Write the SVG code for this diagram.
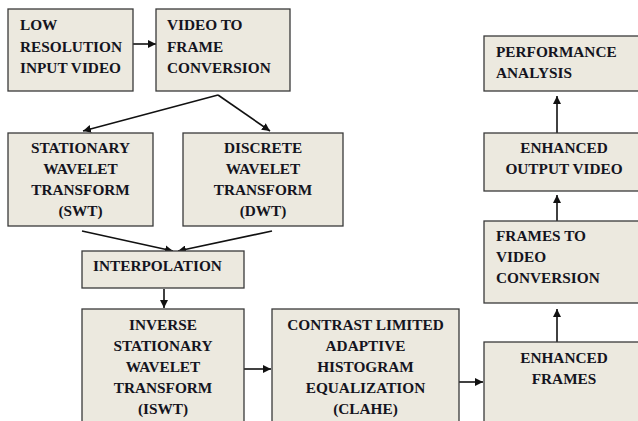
<svg xmlns="http://www.w3.org/2000/svg" width="638" height="421" viewBox="0 0 638 421">
<defs>
<style>
.box{fill:#ECE9DF;stroke:#3a3a3a;stroke-width:1.3}
.t{font-family:'Liberation Serif','Times New Roman',Times,serif;font-weight:bold;font-size:15.3px;fill:#141420}
.c{text-anchor:middle}
.ln{stroke:#111;stroke-width:1.6;fill:none}
</style>
<marker id="ah" viewBox="0 0 10 10" refX="10" refY="5" markerWidth="8" markerHeight="8" orient="auto" markerUnits="userSpaceOnUse">
<path d="M0,0 L10,5 L0,10 z" fill="#111"/>
</marker>
</defs>
<rect width="638" height="421" fill="#fff"/>
<g id="connectors">
<line class="ln" x1="133" y1="44" x2="156" y2="44" marker-end="url(#ah)"/>
<line class="ln" x1="218" y1="95" x2="83" y2="131" marker-end="url(#ah)"/>
<line class="ln" x1="218" y1="95" x2="270" y2="131" marker-end="url(#ah)"/>
<line class="ln" x1="82" y1="231" x2="173" y2="251" marker-end="url(#ah)"/>
<line class="ln" x1="272" y1="231" x2="178" y2="251" marker-end="url(#ah)"/>
<line class="ln" x1="164" y1="289" x2="164" y2="308" marker-end="url(#ah)"/>
<line class="ln" x1="244" y1="369" x2="271" y2="369" marker-end="url(#ah)"/>
<line class="ln" x1="459" y1="382" x2="483" y2="382" marker-end="url(#ah)"/>
<line class="ln" x1="557" y1="342" x2="557" y2="309" marker-end="url(#ah)"/>
<line class="ln" x1="557" y1="221" x2="557" y2="195" marker-end="url(#ah)"/>
<line class="ln" x1="557" y1="133" x2="557" y2="96" marker-end="url(#ah)"/>
</g>
<g id="n_input">
<rect class="box" x="8" y="9" width="125" height="82"/>
<text class="t" x="20" y="30">LOW</text>
<text class="t" x="20" y="52">RESOLUTION</text>
<text class="t" x="20" y="73">INPUT VIDEO</text>
</g>
<g id="n_v2f">
<rect class="box" x="156" y="9" width="134" height="82"/>
<text class="t" x="167" y="30">VIDEO TO</text>
<text class="t" x="167" y="52">FRAME</text>
<text class="t" x="167" y="73">CONVERSION</text>
</g>
<g id="n_swt">
<rect class="box" x="8" y="133" width="145" height="93"/>
<text class="t c" x="80.5" y="153">STATIONARY</text>
<text class="t c" x="80.5" y="174">WAVELET</text>
<text class="t c" x="80.5" y="195">TRANSFORM</text>
<text class="t c" x="80.5" y="216">(SWT)</text>
</g>
<g id="n_dwt">
<rect class="box" x="183" y="133" width="160" height="93"/>
<text class="t c" x="263" y="153">DISCRETE</text>
<text class="t c" x="263" y="174">WAVELET</text>
<text class="t c" x="263" y="195">TRANSFORM</text>
<text class="t c" x="263" y="216">(DWT)</text>
</g>
<g id="n_interp">
<rect class="box" x="82" y="251" width="162" height="37"/>
<text class="t" x="93" y="271">INTERPOLATION</text>
</g>
<g id="n_iswt">
<rect class="box" x="82" y="309" width="162" height="120"/>
<text class="t c" x="163" y="330">INVERSE</text>
<text class="t c" x="163" y="351">STATIONARY</text>
<text class="t c" x="163" y="372">WAVELET</text>
<text class="t c" x="163" y="393">TRANSFORM</text>
<text class="t c" x="163" y="414">(ISWT)</text>
</g>
<g id="n_clahe">
<rect class="box" x="272" y="309" width="187" height="120"/>
<text class="t c" x="365.5" y="330">CONTRAST LIMITED</text>
<text class="t c" x="365.5" y="351">ADAPTIVE</text>
<text class="t c" x="365.5" y="372">HISTOGRAM</text>
<text class="t c" x="365.5" y="393">EQUALIZATION</text>
<text class="t c" x="365.5" y="414">(CLAHE)</text>
</g>
<g id="n_frames">
<rect class="box" x="484" y="342" width="160" height="90"/>
<text class="t c" x="564" y="363">ENHANCED</text>
<text class="t c" x="564" y="384">FRAMES</text>
</g>
<g id="n_f2v">
<rect class="box" x="484" y="221" width="160" height="82"/>
<text class="t" x="496" y="241">FRAMES TO</text>
<text class="t" x="496" y="262">VIDEO</text>
<text class="t" x="496" y="283">CONVERSION</text>
</g>
<g id="n_output">
<rect class="box" x="484" y="133" width="160" height="58"/>
<text class="t c" x="564" y="153">ENHANCED</text>
<text class="t c" x="564" y="174">OUTPUT VIDEO</text>
</g>
<g id="n_perf">
<rect class="box" x="484" y="36" width="160" height="55"/>
<text class="t" x="496" y="57">PERFORMANCE</text>
<text class="t" x="496" y="78">ANALYSIS</text>
</g>
</svg>
